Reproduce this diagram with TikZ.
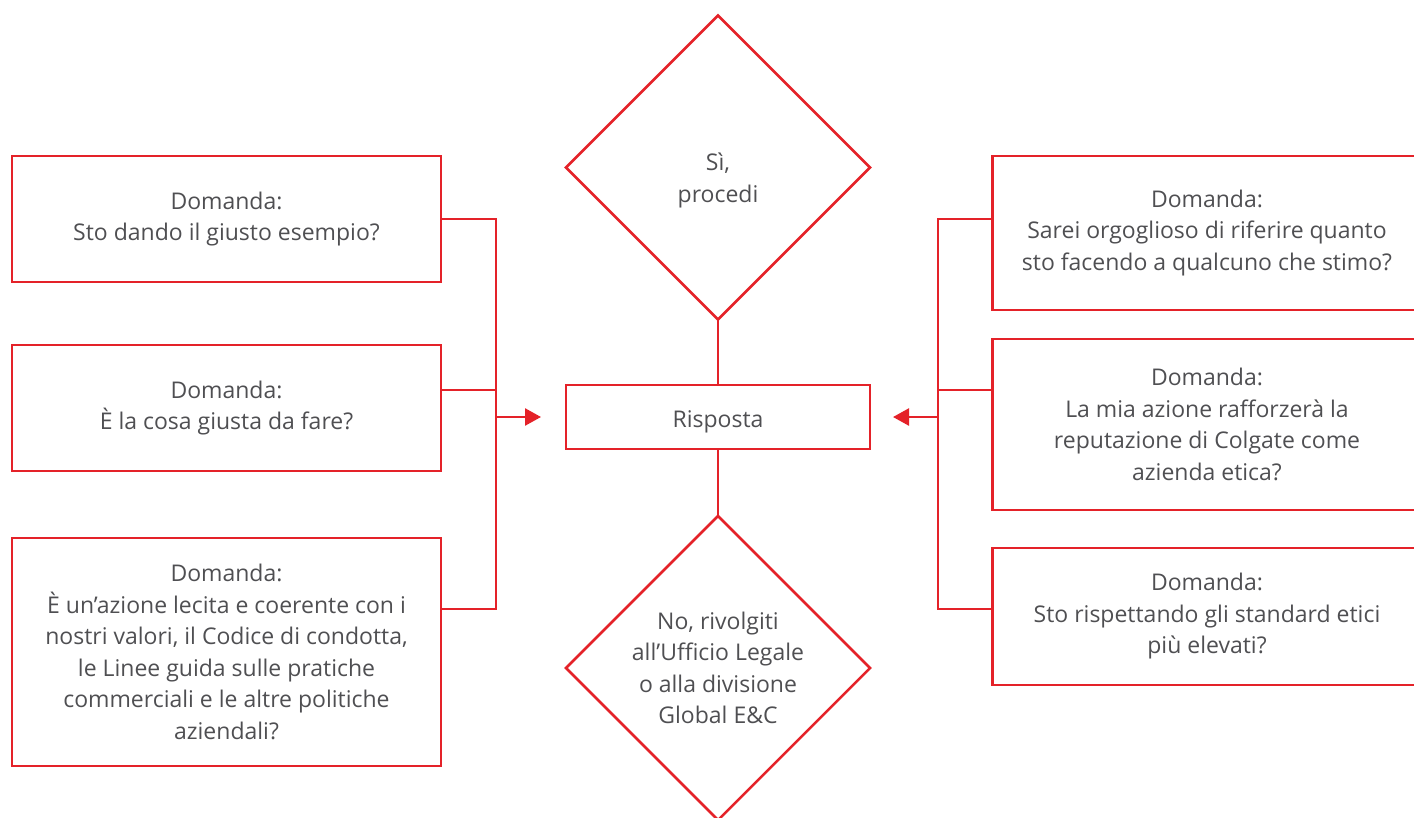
\documentclass[tikz,border=0pt]{standalone}
\usepackage{fontspec}
\setmainfont{Open Sans}
\usetikzlibrary{shapes.geometric,arrows.meta}
\definecolor{cred}{HTML}{E42229}
\definecolor{ctext}{HTML}{4F4F52}
\begin{document}
\begin{tikzpicture}[x=1pt,y=-1pt,
  every node/.style={font=\fontsize{23}{31.5}\selectfont,text=ctext,align=center},
  qbox/.style={draw=cred,line width=2.5pt,rectangle,inner sep=0pt,outer sep=0pt,minimum width=429pt},
  dbox/.style={draw=cred,line width=2.5pt,diamond,aspect=1,inner sep=0pt,outer sep=0pt,minimum width=304pt,minimum height=304pt},
  conn/.style={draw=cred,line width=2.5pt},
  arr/.style={conn,-{Triangle[length=16pt,width=17pt]}}]
\useasboundingbox (0,0) rectangle (1414,817);
\begin{scope}
\clip (0,0) rectangle (1414,817);
% left boxes
\node[qbox,minimum height=126pt] (l1) at (226.5,219) {Domanda:\\Sto dando il giusto esempio?};
\node[qbox,minimum height=126pt] (l2) at (226.5,408) {Domanda:\\È la cosa giusta da fare?};
\node[qbox,minimum height=228pt] (l3) at (226.5,652) {Domanda:\\È un’azione lecita e coerente con i\\nostri valori, il Codice di condotta,\\le Linee guida sulle pratiche\\commerciali e le altre politiche\\aziendali?};
% right boxes
\node[qbox,minimum height=154pt] (r1) at (1207,233) {Domanda:\\Sarei orgoglioso di riferire quanto\\sto facendo a qualcuno che stimo?};
\node[qbox,minimum height=171pt] (r2) at (1207,424.5) {Domanda:\\La mia azione rafforzerà la\\reputazione di Colgate come\\azienda etica?};
\node[qbox,minimum height=137pt] (r3) at (1207,616.5) {Domanda:\\Sto rispettando gli standard etici\\più elevati?};
% centre
\node[dbox] (top) at (718,167.5) {\\[12pt]Sì,\\procedi};
\node[qbox,minimum width=304pt,minimum height=64pt,align=none,text height=26pt,text depth=5.5pt] (ris) at (718,417) {Risposta};
\node[dbox] (bot) at (718,668) {No, rivolgiti\\all’Ufficio Legale\\o alla divisione\\Global E\&C};
\draw[conn] (top.south) -- (ris.north);
\draw[conn] (ris.south) -- (bot.north);
% left bracket
\coordinate (lj1) at (496,219);
\coordinate (lj3) at (496,609);
\coordinate (lja) at (496,417);
\coordinate (lt) at (541,417);
\draw[conn] (l1.east) -- (lj1) -- (lj3) -- (lj3 -| l3.east);
\draw[conn] ([yshift=18pt]l2.east) -- ([yshift=18pt]l2.east -| lj1);
\draw[arr] (lja) -- (lt);
% right bracket
\coordinate (rj1) at (938,219);
\coordinate (rj3) at (938,609);
\coordinate (rja) at (938,417);
\coordinate (rt) at (893,417);
\draw[conn] (rj1 -| r1.west) -- (rj1) -- (rj3) -- (rj3 -| r3.west);
\draw[conn] (rj1 |- 0,390) -- (r2.west |- 0,390);
\draw[arr] (rja) -- (rt);
\end{scope}
\end{tikzpicture}
\end{document}
